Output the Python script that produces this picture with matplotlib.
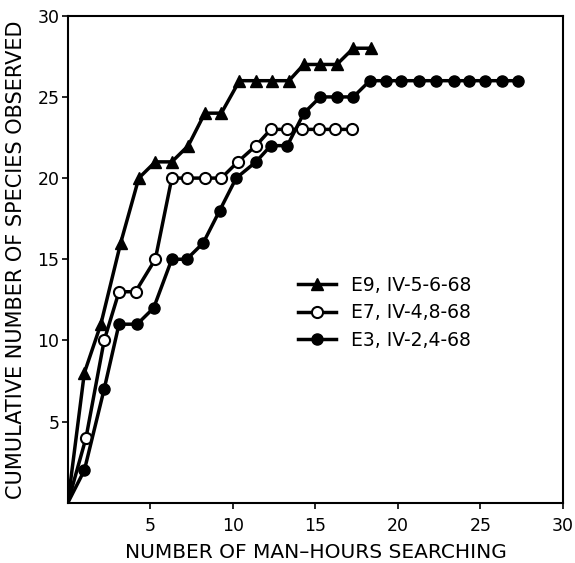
import matplotlib
matplotlib.use("Agg")
import matplotlib.pyplot as plt

# E9, IV-5-6-68 (filled triangles)
e9_x = [0, 1.0, 2.0, 3.2, 4.3, 5.3, 6.3, 7.3, 8.3, 9.3, 10.4, 11.4, 12.4, 13.4, 14.3, 15.3, 16.3, 17.3, 18.4]
e9_y = [0, 8, 11, 16, 20, 21, 21, 22, 24, 24, 26, 26, 26, 26, 27, 27, 27, 28, 28]

# E7, IV-4,8-68 (open circles)
e7_x = [0, 1.1, 2.2, 3.1, 4.1, 5.3, 6.3, 7.2, 8.3, 9.3, 10.3, 11.4, 12.3, 13.3, 14.2, 15.2, 16.2, 17.2]
e7_y = [0, 4, 10, 13, 13, 15, 20, 20, 20, 20, 21, 22, 23, 23, 23, 23, 23, 23]

# E3, IV-2,4-68 (filled circles)
e3_x = [0, 1.0, 2.2, 3.1, 4.2, 5.2, 6.3, 7.2, 8.2, 9.2, 10.2, 11.4, 12.3, 13.3, 14.3, 15.3, 16.3, 17.3,
        18.3, 19.3, 20.2, 21.3, 22.3, 23.4, 24.3, 25.3, 26.3, 27.3]
e3_y = [0, 2, 7, 11, 11, 12, 15, 15, 16, 18, 20, 21, 22, 22, 24, 25, 25, 25,
        26, 26, 26, 26, 26, 26, 26, 26, 26, 26]

labels = ["E9, IV-5-6-68", "E7, IV-4,8-68", "E3, IV-2,4-68"]
ticks = [5, 10, 15, 20, 25, 30]

fig = plt.figure(figsize=(5.75, 5.63), dpi=100)
ax = fig.add_axes([0.118, 0.107, 0.861, 0.865])

lw = 2.5
ax.plot(e9_x, e9_y, color="black", lw=lw, marker="^", ms=9, markevery=list(range(1, len(e9_x))),
        label=labels[0])
ax.plot(e7_x, e7_y, color="black", lw=lw, marker="o", ms=8, mfc="white", mec="black", mew=1.5,
        markevery=list(range(1, len(e7_x))), label=labels[1])
ax.plot(e3_x, e3_y, color="black", lw=lw, marker="o", ms=8, mfc="black", mec="black",
        markevery=list(range(1, len(e3_x))), label=labels[2])

ax.set_xlim(0, 30)
ax.set_ylim(0, 30)
ax.set_xticks(ticks)
ax.set_yticks(ticks)
ax.tick_params(axis="y", direction="out", length=4, width=1.2, labelsize=12.5, pad=2)
ax.tick_params(axis="x", direction="out", length=4, width=1.2, labelsize=12.5, pad=6)
for s in ax.spines.values():
    s.set_linewidth(1.5)

ax.set_xlabel("NUMBER OF MAN\u2013HOURS SEARCHING", fontsize=14.5, labelpad=6)
ax.set_ylabel("CUMULATIVE NUMBER OF SPECIES OBSERVED", fontsize=15, labelpad=8)

leg = ax.legend(loc="upper left", bbox_to_anchor=(0.465, 0.466), frameon=False, fontsize=13.5,
                handlelength=2.0, handletextpad=0.8, labelspacing=0.45, borderaxespad=0,
                borderpad=0)

fig.savefig("out.png", dpi=100)
